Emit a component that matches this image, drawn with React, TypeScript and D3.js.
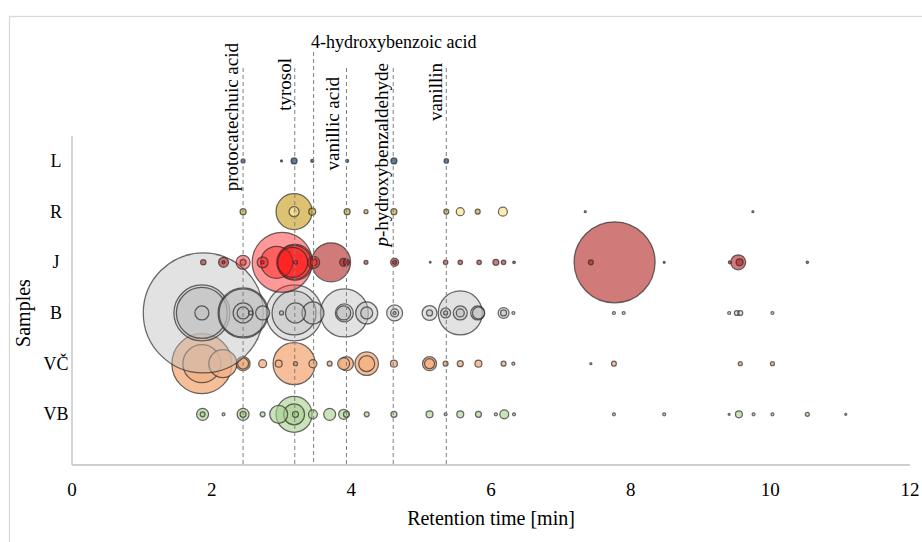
import React from "react";
import * as d3 from "d3";

// rows bottom to top
const samples = ["VB", "VČ", "B", "J", "R", "L"];

const compounds = ["protocatechuic acid", "tyrosol", "4-hydroxybenzoic acid", "vanillic acid", "p-hydroxybenzaldehyde", "vanillin"];
const compoundTimes = [2.45, 3.19, 3.46, 3.93, 4.6, 5.36];

const xTicks = [0, 2, 4, 6, 8, 10, 12];

// retention time [min] and peak size (relative area) per sample
const vbTimes = [1.87, 1.87, 2.17, 2.45, 2.45, 2.73, 2.96, 3.18, 3.18, 3.2, 3.45, 3.69, 3.89, 3.93, 4.22, 4.61, 5.12, 5.35, 5.56, 5.82, 6.07, 6.19, 6.33, 7.76, 8.48, 9.41, 9.55, 9.76, 10.03, 10.53, 11.08];
const vbSizes = [36, 6, 2.2, 36, 9, 6, 81, 324, 110, 9, 20, 36, 25, 9, 6, 9, 12, 2.2, 12, 9, 2.2, 20, 2.2, 2.2, 2.2, 1, 12, 2.2, 2.2, 4, 1];

const vcTimes = [1.86, 1.86, 2.16, 2.45, 2.45, 2.73, 2.96, 3.18, 3.2, 3.45, 3.69, 3.89, 3.93, 4.22, 4.22, 4.61, 5.12, 5.12, 5.35, 5.56, 5.82, 6.18, 6.32, 7.43, 7.76, 9.57, 10.03];
const vcSizes = [900, 361, 196, 49, 30, 16, 12, 441, 4, 16, 6, 36, 49, 137, 64, 12, 49, 25, 6, 9, 12, 6, 2.2, 1, 6, 4, 4];

const bTimes = [1.88, 1.86, 1.86, 1.86, 2.45, 2.45, 2.45, 2.45, 2.56, 2.73, 3.0, 3.18, 3.18, 3.2, 3.45, 3.9, 3.9, 3.89, 4.22, 4.22, 4.62, 4.62, 4.62, 5.12, 5.12, 5.35, 5.35, 5.56, 5.56, 5.56, 5.81, 5.82, 6.18, 6.18, 6.32, 7.76, 7.9, 9.41, 9.52, 9.57, 10.03];
const bSizes = [3600, 784, 650, 49, 576, 625, 100, 36, 4, 49, 4, 784, 484, 100, 121, 576, 81, 49, 121, 36, 64, 16, 2.2, 56, 9, 25, 4, 484, 49, 16, 49, 36, 30, 9, 2.2, 2.2, 2.2, 2.2, 6, 6, 2.2];

const jTimes = [2.45, 2.45, 2.73, 2.73, 2.93, 3.01, 3.16, 3.18, 3.19, 3.2, 3.46, 3.46];
const jSizes = [49, 9, 30, 2.2, 256, 900, 225, 289, 324, 4, 36, 12];

const j2Times = [1.88, 2.17, 2.17, 3.71, 3.89, 3.93, 4.21, 4.62, 4.62, 5.13, 5.35, 5.56, 5.83, 6.07, 6.18, 6.33, 7.43, 7.77, 8.48, 9.42, 9.54, 9.56, 10.53];
const j2Sizes = [7, 25, 2.2, 380, 16, 9, 4, 16, 4, 0.7, 5, 5, 5, 9, 5, 1.7, 6, 1640, 1, 2.2, 56, 12, 1.4];

const rTimes = [2.45, 3.18, 3.2, 3.44, 3.94, 4.21, 4.61, 5.36, 5.81, 7.35, 9.75];
const rSizes = [9, 324, 2.2, 12, 9, 4, 9, 6, 6, 1, 1];

const r2Times = [3.18, 5.56, 6.17];
const r2Sizes = [25, 16, 20];

const lTimes = [2.45, 3.0, 3.18, 3.44, 3.94, 4.61, 5.36];
const lSizes = [4, 1, 9, 2.2, 2.2, 9, 5];

// drawing order: later series on top
const series = [
  { sample: "VB", times: vbTimes, sizes: vbSizes },
  { sample: "VČ", times: vcTimes, sizes: vcSizes },
  { sample: "B", times: bTimes, sizes: bSizes },
  { sample: "J", times: j2Times, sizes: j2Sizes },
  { sample: "J", times: jTimes, sizes: jSizes },
  { sample: "R", times: rTimes, sizes: rSizes },
  { sample: "R", times: r2Times, sizes: r2Sizes },
  { sample: "L", times: lTimes, sizes: lSizes },
];

const fills = [
  { fill: "#a9d18e", op: 0.6 },
  { fill: "#f4b183", op: 0.82 },
  { fill: "#bfbfbf", op: 0.45 },
  { fill: "#b22222", op: 0.6 },
  { fill: "#ff1a1a", op: 0.45 },
  { fill: "#c9a227", op: 0.65 },
  { fill: "#ffe699", op: 0.75 },
  { fill: "#2f5f95", op: 0.85 },
];

// label placement: baseline x (rotated) / start x, and top y
const labelPos = [
  { rot: true, bx: 238, ty: 43, lineTop: 68 },
  { rot: true, bx: 291, ty: 58, lineTop: 68 },
  { rot: false, bx: 311, ty: 48, lineTop: 52 },
  { rot: true, bx: 339, ty: 77, lineTop: 68 },
  { rot: true, bx: 388, ty: 63, lineTop: 68 },
  { rot: true, bx: 442, ty: 63, lineTop: 68 },
];

const font = "'Liberation Serif', 'Times New Roman', serif";

export default function App() {
  const width = 922, height = 542;
  const left = 72, right = 910, bottom = 465;

  const x = d3.scaleLinear().domain([0, 12]).range([left, right]);
  const y = d3.scaleLinear().domain([0, 6.5]).range([bottom, bottom - 6.5 * 50.67]);
  const r = d3.scaleSqrt().domain([0, 3600]).range([0, 60]);

  const rowOf = (s: string) => samples.indexOf(s) + 1;

  return (
    <svg width={width} height={height} style={{ position: "absolute", left: 0, top: 0, background: "#fff" }} fontFamily={font}>
      <rect x={9.5} y={16.5} width={940} height={560} fill="#fff" stroke="#d9d9d9" strokeWidth={1.3} />

      {/* axes */}
      <line x1={left} x2={right} y1={bottom} y2={bottom} stroke="#bfbfbf" strokeWidth={1.3} />
      <line x1={left} x2={left} y1={y(6.5)} y2={bottom} stroke="#bfbfbf" strokeWidth={1.3} />

      {/* bubbles */}
      {series.map((s, si) => {
        const pts = s.times.map((t, i) => ({ t, v: s.sizes[i] })).sort((a, b) => b.v - a.v);
        return (
          <g key={si}>
            {pts.map((p, i) => (
              <circle
                key={i}
                cx={x(p.t)}
                cy={y(rowOf(s.sample))}
                r={Math.max(r(p.v), 0.8)}
                fill={fills[si].fill}
                fillOpacity={fills[si].op}
                stroke="#2b2b2b"
                strokeOpacity={0.7}
                strokeWidth={1.25}
              />
            ))}
          </g>
        );
      })}

      {/* compound reference lines and labels */}
      {compounds.map((c, i) => {
        const lx = x(compoundTimes[i]);
        const lp = labelPos[i];
        const content = c.startsWith("p-") ? (
          <>
            <tspan fontStyle="italic">p</tspan>
            {c.slice(1)}
          </>
        ) : c;
        return (
          <g key={c}>
            <line x1={lx} x2={lx} y1={lp.lineTop} y2={bottom} stroke="#7f7f7f" strokeWidth={1} strokeDasharray="4,3" />
            {lp.rot ? (
              <text transform={`translate(${lp.bx},${lp.ty}) rotate(-90)`} textAnchor="end" fontSize={19} fill="#000">
                {content}
              </text>
            ) : (
              <text x={lp.bx} y={lp.ty} fontSize={18} fill="#000">
                {content}
              </text>
            )}
          </g>
        );
      })}

      {/* x ticks */}
      {xTicks.map((t) => (
        <text key={t} x={x(t)} y={bottom + 31} textAnchor="middle" fontSize={19} fill="#000">
          {t}
        </text>
      ))}
      <text x={(left + right) / 2} y={bottom + 60} textAnchor="middle" fontSize={20} fill="#000">
        Retention time [min]
      </text>

      {/* y labels */}
      {samples.map((s, i) => (
        <text key={s} x={56} y={y(i + 1) + 6} textAnchor="middle" fontSize={18} fill="#000">
          {s}
        </text>
      ))}
      <text transform={`translate(30,${y(3)}) rotate(-90)`} textAnchor="middle" fontSize={20} fill="#000">
        Samples
      </text>
    </svg>
  );
}
